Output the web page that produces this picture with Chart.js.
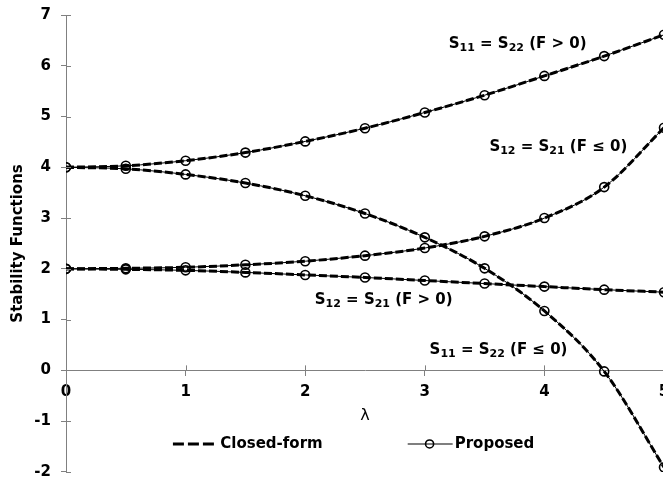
<!DOCTYPE html>
<html>
<head>
<meta charset="utf-8">
<script src="https://cdn.jsdelivr.net/npm/chart.js@4/dist/chart.umd.min.js"></script>
<style>
  html, body { margin: 0; padding: 0; background: #fff; overflow: hidden; }
  .chart-box { width: 663px; height: 478px; overflow: hidden; }
</style>
</head>
<body>
<div class="chart-box">
  <canvas id="stability-chart" width="680" height="478"></canvas>
</div>
<script>
  "use strict";

  var lambdaValues = [0, 0.5, 1, 1.5, 2, 2.5, 3, 3.5, 4, 4.5, 5];
  var s11Tension = [4.00, 4.03, 4.13, 4.29, 4.51, 4.77, 5.08, 5.42, 5.80, 6.19, 6.61];
  var s12Tension = [2.00, 1.99, 1.97, 1.93, 1.88, 1.83, 1.77, 1.71, 1.65, 1.59, 1.54];
  var s11Compression = [4.00, 3.97, 3.86, 3.69, 3.44, 3.09, 2.62, 2.01, 1.17, -0.02, -1.91];
  var s12Compression = [2.00, 2.01, 2.03, 2.08, 2.15, 2.26, 2.41, 2.64, 3.00, 3.61, 4.78];
  var seriesNames = ['Closed-form', 'Proposed'];
  var curveLabels = [
    { sub1: '11', sub2: '22', cond: '(F > 0)', x: 3.20, y: 6.42 },
    { sub1: '12', sub2: '21', cond: '(F \u2264 0)', x: 3.54, y: 4.40 },
    { sub1: '12', sub2: '21', cond: '(F > 0)', x: 2.08, y: 1.38 },
    { sub1: '11', sub2: '22', cond: '(F \u2264 0)', x: 3.04, y: 0.39 }
  ];

  var FONT = '"DejaVu Sans", Verdana, sans-serif';
  var AXIS_GREY = '#808080';

  function toPoints(values) {
    return values.map(function (v, i) {
      return { x: lambdaValues[i], y: v };
    });
  }

  var curves = [s11Tension, s12Compression, s12Tension, s11Compression];
  var datasets = [];
  curves.forEach(function (values) {
    datasets.push({
      label: seriesNames[0],
      data: toPoints(values),
      borderColor: '#000',
      borderWidth: 3,
      borderDash: [8, 3],
      pointRadius: 0,
      cubicInterpolationMode: 'monotone',
      fill: false
    });
  });
  curves.forEach(function (values) {
    datasets.push({
      label: seriesNames[1],
      data: toPoints(values),
      borderColor: '#000',
      borderWidth: 1,
      pointRadius: 4.5,
      pointBorderWidth: 1.6,
      pointBorderColor: '#000',
      pointBackgroundColor: 'rgba(0,0,0,0)',
      cubicInterpolationMode: 'monotone',
      fill: false
    });
  });

  // inner half of the crossing tick marks
  var innerTicks = {
    id: 'innerTicks',
    afterDraw: function (chart) {
      var ctx = chart.ctx;
      var xs = chart.scales.x, ys = chart.scales.y;
      var x0 = xs.getPixelForValue(0), y0 = ys.getPixelForValue(0);
      ctx.save();
      ctx.strokeStyle = AXIS_GREY;
      ctx.lineWidth = 1;
      ctx.beginPath();
      ys.ticks.forEach(function (t) {
        var py = Math.round(ys.getPixelForValue(t.value)) + 0.5;
        ctx.moveTo(x0, py);
        ctx.lineTo(x0 + 5, py);
      });
      xs.ticks.forEach(function (t) {
        var px = Math.round(xs.getPixelForValue(t.value)) + 0.5;
        ctx.moveTo(px, y0);
        ctx.lineTo(px, y0 - 5);
      });
      ctx.stroke();
      ctx.restore();
    }
  };

  // curve names with subscripts + the two-item legend inside the plot
  var textPlugin = {
    id: 'curveText',
    afterDatasetsDraw: function (chart) {
      var ctx = chart.ctx;
      var xs = chart.scales.x, ys = chart.scales.y;
      var big = 'bold 15px ' + FONT, small = 'bold 11px ' + FONT;
      ctx.save();
      ctx.fillStyle = '#000';
      ctx.textBaseline = 'middle';
      ctx.textAlign = 'left';
      curveLabels.forEach(function (lab) {
        var px = xs.getPixelForValue(lab.x);
        var py = ys.getPixelForValue(lab.y);
        var parts = [
          [big, 'S', 0], [small, lab.sub1, 4], [big, ' = S', 0],
          [small, lab.sub2, 4], [big, ' ' + lab.cond, 0]
        ];
        parts.forEach(function (p) {
          ctx.font = p[0];
          ctx.fillText(p[1], px, py + p[2]);
          px += ctx.measureText(p[1]).width;
        });
      });

      var ly = ys.getPixelForValue(-1.45);
      ctx.font = big;
      ctx.strokeStyle = '#000';
      ctx.lineWidth = 3;
      ctx.setLineDash([11, 4]);
      ctx.beginPath();
      ctx.moveTo(xs.getPixelForValue(0.894), ly);
      ctx.lineTo(xs.getPixelForValue(1.253), ly);
      ctx.stroke();
      ctx.setLineDash([]);
      ctx.fillText(seriesNames[0], xs.getPixelForValue(1.29), ly);

      ctx.lineWidth = 1.2;
      ctx.beginPath();
      ctx.moveTo(xs.getPixelForValue(2.857), ly);
      ctx.lineTo(xs.getPixelForValue(3.233), ly);
      ctx.stroke();
      ctx.lineWidth = 1.6;
      ctx.beginPath();
      ctx.arc(xs.getPixelForValue(3.04), ly, 4, 0, Math.PI * 2);
      ctx.stroke();
      ctx.fillText(seriesNames[1], xs.getPixelForValue(3.25), ly);
      ctx.restore();
    }
  };

  var ctxStability = document.getElementById('stability-chart').getContext('2d');
  var stabilityChart = new Chart(ctxStability, {
    type: 'line',
    data: { datasets: datasets },
    plugins: [innerTicks, textPlugin],
    options: {
      responsive: false,
      animation: false,
      devicePixelRatio: 1,
      layout: {
        padding: { top: 15, right: 16, bottom: 3, left: 0 }
      },
      scales: {
        x: {
          type: 'linear',
          position: { y: 0 },
          min: 0,
          max: 5,
          afterFit: function (scale) {
            scale.paddingLeft = 0;
            scale.paddingRight = 0;
          },
          grid: {
            display: true,
            drawOnChartArea: false,
            drawTicks: true,
            tickLength: 5,
            color: AXIS_GREY
          },
          border: { display: true, color: AXIS_GREY, width: 1 },
          ticks: {
            stepSize: 1,
            padding: 8,
            color: '#000',
            font: { family: FONT, size: 15, weight: 'bold' }
          },
          title: {
            display: true,
            text: '\u03bb',
            color: '#000',
            padding: { top: -3, bottom: 0 },
            font: { family: FONT, size: 16 }
          }
        },
        y: {
          type: 'linear',
          position: 'left',
          min: -2,
          max: 7,
          afterFit: function (scale) {
            scale.width = 66;
            scale.paddingTop = 0;
            scale.paddingBottom = 0;
          },
          grid: {
            display: true,
            drawOnChartArea: false,
            drawTicks: true,
            tickLength: 5,
            color: AXIS_GREY
          },
          border: { display: true, color: AXIS_GREY, width: 1 },
          ticks: {
            stepSize: 1,
            padding: 10,
            color: '#000',
            // small lineHeight so the "-2" label may hang off the bottom edge
            font: { family: FONT, size: 15, weight: 'bold', lineHeight: 0.3 }
          },
          title: {
            display: true,
            text: 'Stability Functions',
            color: '#000',
            padding: { top: 9, bottom: 0 },
            font: { family: FONT, size: 15, weight: 'bold' }
          }
        }
      },
      plugins: {
        legend: { display: false },
        tooltip: { enabled: false }
      }
    }
  });
</script>
</body>
</html>
